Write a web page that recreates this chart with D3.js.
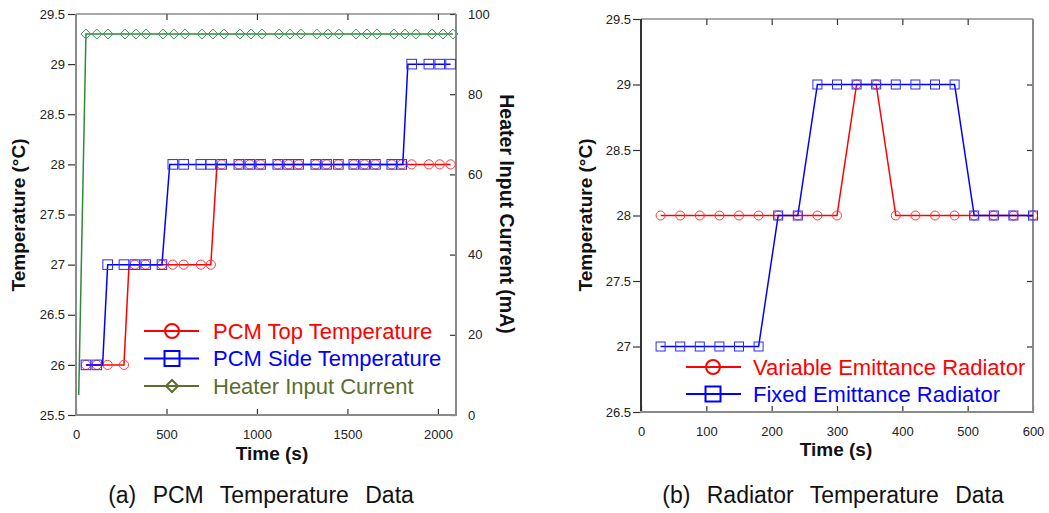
<!DOCTYPE html>
<html>
<head>
<meta charset="utf-8">
<script src="https://cdn.jsdelivr.net/npm/d3@7"></script>
<style>
  body { margin: 0; background: #fff; }
  svg { display: block; font-family: "Liberation Sans", Arial, sans-serif; }
</style>
</head>
<body>
<script>
// ---- (a) PCM temperature data ----
const pcmTime = [55, 115, 175, 265, 325, 385, 475, 535, 595, 690, 745, 805, 900, 960, 1020,
  1115, 1175, 1230, 1325, 1385, 1450, 1535, 1595, 1655, 1745, 1800, 1855, 1950, 2010, 2070];
const pcmTop = [26, 26, 26, 26, 27, 27, 27, 27, 27, 27, 27, 28, 28, 28, 28,
  28, 28, 28, 28, 28, 28, 28, 28, 28, 28, 28, 28, 28, 28, 28];
const pcmSide = [26, 26, 27, 27, 27, 27, 27, 28, 28, 28, 28, 28, 28, 28, 28,
  28, 28, 28, 28, 28, 28, 28, 28, 28, 28, 28, 29, 29, 29, 29];
// unmarked vertices where the logged curve steps between markers
const pcmTopRise = [[293, 27], [779, 28]];
const pcmSideRise = [[147, 26], [518, 28], [1806, 28], [1834, 29]];

const heaterTime = [55, 115, 177, 271, 331, 387, 481, 541, 602, 696, 757, 818, 906, 967, 1028,
  1122, 1182, 1243, 1331, 1392, 1453, 1547, 1608, 1663, 1757, 1818, 1878, 1967, 2028, 2083];
const heaterCurrent = [95, 95, 95, 95, 95, 95, 95, 95, 95, 95, 95, 95, 95, 95, 95,
  95, 95, 95, 95, 95, 95, 95, 95, 95, 95, 95, 95, 95, 95, 95];
const heaterLead = [[15, 5]];

const pcmTempTicks = [25.5, 26, 26.5, 27, 27.5, 28, 28.5, 29, 29.5];
const pcmTimeTicks = [0, 500, 1000, 1500, 2000];
const currentTicks = [0, 20, 40, 60, 80, 100];
const pcmLegend = ["PCM Top Temperature", "PCM Side Temperature", "Heater Input Current"];

// ---- (b) radiator temperature data ----
const radTime = [30, 60, 90, 120, 150, 180, 210, 240, 270, 300,
  330, 360, 390, 420, 450, 480, 510, 540, 570, 600];
const radVariable = [28, 28, 28, 28, 28, 28, 28, 28, 28, 28,
  29, 29, 28, 28, 28, 28, 28, 28, 28, 28];
const radFixed = [27, 27, 27, 27, 27, 27, 28, 28, 29, 29,
  29, 29, 29, 29, 29, 29, 28, 28, 28, 28];
const radTempTicks = [26.5, 27, 27.5, 28, 28.5, 29, 29.5];
const radTimeTicks = [0, 100, 200, 300, 400, 500, 600];
const radLegend = ["Variable Emittance Radiator", "Fixed Emittance Radiator"];

const RED = "#ff0000", BLUE = "#0000ff", GREEN = "#2f8a3a", OLIVE = "#5b6f2c";
const plain = d3.format("");

const svg = d3.select("body").append("svg")
  .attr("width", 1049)
  .attr("height", 513)
  .style("background", "#fff");

function marker(g, shape, cx, cy, r, color, sw = 1) {
  if (shape === "circle") {
    g.append("circle").attr("cx", cx).attr("cy", cy).attr("r", r)
      .attr("fill", "none").attr("stroke", color).attr("stroke-width", sw);
  } else if (shape === "square") {
    g.append("rect").attr("x", cx - r).attr("y", cy - r).attr("width", 2 * r).attr("height", 2 * r)
      .attr("fill", "none").attr("stroke", color).attr("stroke-width", sw);
  } else {
    g.append("path").attr("d", `M${cx},${cy - r}L${cx + r},${cy}L${cx},${cy + r}L${cx - r},${cy}Z`)
      .attr("fill", "none").attr("stroke", color).attr("stroke-width", sw);
  }
}

function styleAxis(sel) {
  sel.select(".domain").remove();
  sel.selectAll(".tick line").attr("stroke", "#333").attr("stroke-width", 1.2);
  sel.selectAll(".tick text").attr("fill", "#222").style("font-size", "13px");
}

function frame(g, x0, x1, y0, y1, leftColor, topColor) {
  g.append("line").attr("x1", x0).attr("x2", x1).attr("y1", y0).attr("y2", y0)
    .attr("stroke", topColor).attr("stroke-width", 1.2);
  g.append("line").attr("x1", x0).attr("x2", x0).attr("y1", y0).attr("y2", y1)
    .attr("stroke", leftColor).attr("stroke-width", 2);
  g.append("line").attr("x1", x1).attr("x2", x1).attr("y1", y0).attr("y2", y1)
    .attr("stroke", "#8a8a8a").attr("stroke-width", 2);
  g.append("line").attr("x1", x0 - 1).attr("x2", x1 + 1).attr("y1", y1).attr("y2", y1)
    .attr("stroke", "#8a8a8a").attr("stroke-width", 2);
}

// ================= panel (a) =================
{
  const g = svg.append("g");
  const x = d3.scaleLinear().domain([0, 2100]).range([76, 456]);
  const y = d3.scaleLinear().domain([25.5, 29.5]).range([415, 14]);
  const yc = d3.scaleLinear().domain([0, 100]).range([415, 14]);

  g.append("g").attr("transform", "translate(76,0)")
    .call(d3.axisLeft(y).tickValues(pcmTempTicks).tickFormat(plain).tickSize(8).tickPadding(3))
    .call(styleAxis);
  g.append("g").attr("transform", "translate(456,0)")
    .call(d3.axisRight(yc).tickValues(currentTicks).tickFormat(plain).tickSizeInner(-6).tickSizeOuter(0).tickPadding(12))
    .call(styleAxis);
  g.append("g").attr("transform", "translate(0,415)")
    .call(d3.axisBottom(x).tickValues(pcmTimeTicks).tickFormat(plain).tickSizeInner(-6).tickSizeOuter(0).tickPadding(15))
    .call(styleAxis);
  g.append("g").attr("transform", "translate(0,14)")
    .call(d3.axisTop(x).tickValues(pcmTimeTicks.slice(1)).tickSizeInner(-6).tickSizeOuter(0).tickFormat(""))
    .call(styleAxis);
  frame(g, 76, 456, 14, 415, "#8a8a8a", "#555");

  const line = d3.line().x(d => x(d[0])).y(d => y(d[1]));
  const lineC = d3.line().x(d => x(d[0])).y(d => yc(d[1]));

  const heaterPts = heaterLead.concat(heaterTime.map((t, i) => [t, heaterCurrent[i]]));
  g.append("path").datum(heaterPts).attr("d", lineC)
    .attr("fill", "none").attr("stroke", GREEN).attr("stroke-width", 1.5);
  heaterTime.forEach((t, i) => marker(g, "diamond", x(t), yc(heaterCurrent[i]), 5, "#3f9a55"));

  const topPts = pcmTime.map((t, i) => [t, pcmTop[i]]).concat(pcmTopRise).sort((a, b) => a[0] - b[0]);
  const sidePts = pcmTime.map((t, i) => [t, pcmSide[i]]).concat(pcmSideRise).sort((a, b) => a[0] - b[0]);

  g.append("path").datum(topPts).attr("d", line)
    .attr("fill", "none").attr("stroke", RED).attr("stroke-width", 1.5);
  pcmTime.forEach((t, i) => marker(g, "circle", x(t), y(pcmTop[i]), 4.6, "#ff3a3a"));

  g.append("path").datum(sidePts).attr("d", line)
    .attr("fill", "none").attr("stroke", BLUE).attr("stroke-width", 1.5);
  pcmTime.forEach((t, i) => marker(g, "square", x(t), y(pcmSide[i]), 4.8, "#2a2aff"));

  // legend
  const legendRows = [
    { shape: "circle", color: RED, r: 7 },
    { shape: "square", color: BLUE, r: 7.5 },
    { shape: "diamond", color: OLIVE, r: 6 }
  ];
  legendRows.forEach((row, i) => {
    const ly = 331 + i * 27.5;
    g.append("line").attr("x1", 144).attr("x2", 199).attr("y1", ly).attr("y2", ly)
      .attr("stroke", row.color).attr("stroke-width", 2);
    g.append("g").call(s => marker(s, row.shape, 172, ly, row.r, row.color, 2));
    g.append("text").attr("x", 213).attr("y", ly + 7.5)
      .attr("fill", row.color).style("font-size", "22px").text(pcmLegend[i]);
  });

  g.append("text").attr("transform", "translate(25,215) rotate(-90)")
    .attr("text-anchor", "middle").style("font-size", "19px").style("font-weight", "bold")
    .attr("fill", "#111").text("Temperature (°C)");
  g.append("text").attr("transform", "translate(500,214) rotate(90)")
    .attr("text-anchor", "middle").style("font-size", "19.5px").style("font-weight", "bold")
    .attr("fill", "#111").text("Heater Input Current (mA)");
  g.append("text").attr("x", 272).attr("y", 460)
    .attr("text-anchor", "middle").style("font-size", "19px").style("font-weight", "bold")
    .attr("fill", "#111").text("Time (s)");
  g.append("text").attr("x", 261).attr("y", 503)
    .attr("text-anchor", "middle").style("font-size", "23px").style("word-spacing", "10px")
    .attr("fill", "#111").text("(a) PCM Temperature Data");
}

// ================= panel (b) =================
{
  const g = svg.append("g");
  const x = d3.scaleLinear().domain([0, 600]).range([641, 1033]);
  const y = d3.scaleLinear().domain([26.5, 29.5]).range([412, 19]);

  g.append("g").attr("transform", "translate(641,0)")
    .call(d3.axisLeft(y).tickValues(radTempTicks).tickFormat(plain).tickSize(8).tickPadding(2))
    .call(styleAxis);
  g.append("g").attr("transform", "translate(1033,0)")
    .call(d3.axisRight(y).tickValues(radTempTicks.slice(1, -1)).tickSizeInner(-6).tickSizeOuter(0).tickFormat(""))
    .call(styleAxis);
  g.append("g").attr("transform", "translate(0,412)")
    .call(d3.axisBottom(x).tickValues(radTimeTicks).tickFormat(plain).tickSizeInner(-6).tickSizeOuter(0).tickPadding(15))
    .call(styleAxis);
  g.append("g").attr("transform", "translate(0,19)")
    .call(d3.axisTop(x).tickValues(radTimeTicks.slice(1, -1)).tickSizeInner(-6).tickSizeOuter(0).tickFormat(""))
    .call(styleAxis);
  frame(g, 641, 1033, 19, 412, "#333", "#555");

  const line = d3.line().x(d => x(d[0])).y(d => y(d[1]));

  g.append("path").datum(radTime.map((t, i) => [t, radVariable[i]])).attr("d", line)
    .attr("fill", "none").attr("stroke", RED).attr("stroke-width", 1.5);
  radTime.forEach((t, i) => marker(g, "circle", x(t), y(radVariable[i]), 4.5, "#ff3a3a"));

  g.append("path").datum(radTime.map((t, i) => [t, radFixed[i]])).attr("d", line)
    .attr("fill", "none").attr("stroke", BLUE).attr("stroke-width", 1.5);
  radTime.forEach((t, i) => marker(g, "square", x(t), y(radFixed[i]), 4.5, "#2a2aff"));

  const legendRows = [
    { shape: "circle", color: RED, r: 7 },
    { shape: "square", color: BLUE, r: 7.5 }
  ];
  legendRows.forEach((row, i) => {
    const ly = 367 + i * 27;
    g.append("line").attr("x1", 686).attr("x2", 741).attr("y1", ly).attr("y2", ly)
      .attr("stroke", row.color).attr("stroke-width", 2);
    g.append("g").call(s => marker(s, row.shape, 713, ly, row.r, row.color, 2));
    g.append("text").attr("x", 753).attr("y", ly + 7.5)
      .attr("fill", row.color).style("font-size", "22px").text(radLegend[i]);
  });

  g.append("text").attr("transform", "translate(592,215) rotate(-90)")
    .attr("text-anchor", "middle").style("font-size", "19px").style("font-weight", "bold")
    .attr("fill", "#111").text("Temperature (°C)");
  g.append("text").attr("x", 836).attr("y", 456)
    .attr("text-anchor", "middle").style("font-size", "19px").style("font-weight", "bold")
    .attr("fill", "#111").text("Time (s)");
  g.append("text").attr("x", 833).attr("y", 503)
    .attr("text-anchor", "middle").style("font-size", "23px").style("word-spacing", "10px")
    .attr("fill", "#111").text("(b) Radiator Temperature Data");
}
</script>
</body>
</html>
